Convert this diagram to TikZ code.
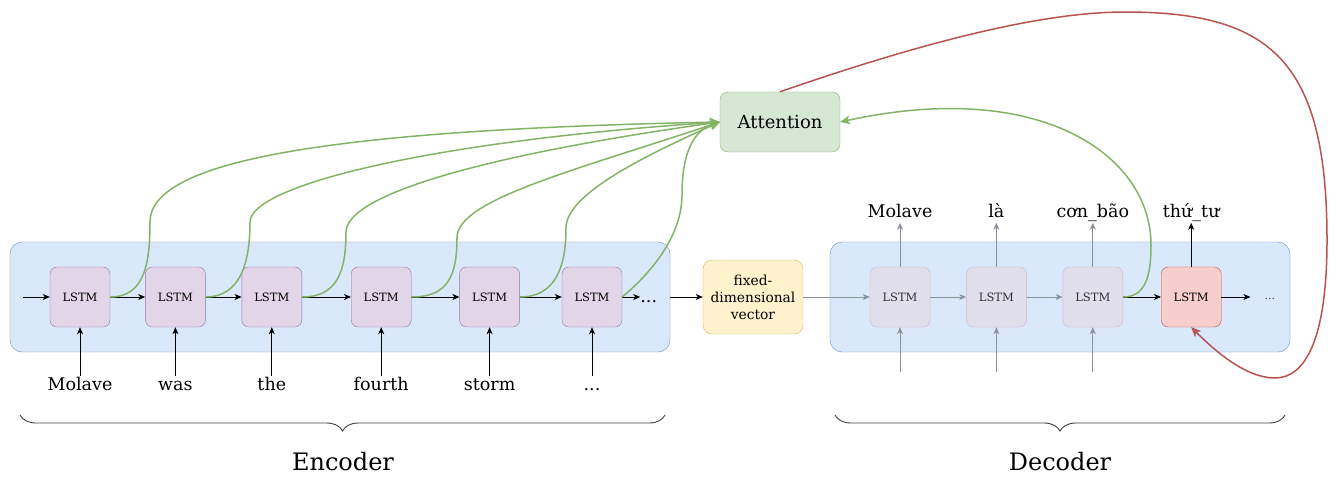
\documentclass[tikz,border=0pt]{standalone}
\usepackage{fontspec}
\setmainfont{DejaVu Serif}
\usepackage{xcolor}
\usetikzlibrary{positioning,arrows.meta,decorations.pathreplacing}
\definecolor{blockfill}{HTML}{DAE8FC}
\definecolor{blockdraw}{HTML}{6C8EBF}
\definecolor{cellfill}{HTML}{E1D5E7}
\definecolor{celldraw}{HTML}{9673A6}
\definecolor{fadefill}{HTML}{E1DFEC}
\definecolor{fadedraw}{HTML}{D5B3C3}
\definecolor{curfill}{HTML}{F8CECC}
\definecolor{curdraw}{HTML}{B85450}
\definecolor{vecfill}{HTML}{FFF2CC}
\definecolor{vecdraw}{HTML}{D6B656}
\definecolor{attfill}{HTML}{D5E8D4}
\definecolor{attdraw}{HTML}{82B366}
\definecolor{fadearrow}{HTML}{8C939D}
\tikzset{
  block/.style={draw=blockdraw, fill=blockfill, rounded corners=12pt, minimum height=110pt, inner sep=0pt},
  lstm/.style={draw=celldraw, fill=cellfill, rounded corners=7pt, minimum width=60pt, minimum height=60pt, inner sep=0pt, font={\fontsize{11.5pt}{13}\selectfont}},
  fade/.style={lstm, draw=fadedraw, fill=fadefill, text=black!80},
  cur/.style={lstm, draw=curdraw, fill=curfill},
  vec/.style={draw=vecdraw, fill=vecfill, rounded corners=9pt, minimum width=100pt, minimum height=74pt, inner sep=0pt, align=center, font={\fontsize{13.8pt}{17}\selectfont}},
  att/.style={draw=attdraw, fill=attfill, rounded corners=8pt, minimum width=120pt, minimum height=60pt, inner sep=0pt, font={\fontsize{18pt}{21}\selectfont}},
  word/.style={inner sep=1pt, text height=13pt, text depth=4pt, font={\fontsize{17.5pt}{21}\selectfont}},
  flow/.style={-{Stealth[length=7pt,width=6pt,inset=2pt]}, line width=0.9pt},
  faded/.style={flow, draw=fadearrow},
  attn/.style={draw=attdraw, line width=1.5pt, -{Stealth[length=10pt,width=9pt,inset=3pt]}},
  back/.style={draw=curdraw, line width=1.5pt, -{Stealth[length=10pt,width=9pt,inset=3pt]}},
  brace/.style={decorate, decoration={brace, amplitude=16pt, mirror}, draw=black!75, line width=0.9pt},
  part/.style={font={\fontsize{24pt}{28}\selectfont}}
}
\begin{document}
\begin{tikzpicture}[x=1pt, y=-1pt]
  \useasboundingbox (0,0) rectangle (1338,488);
  % Define nodes
  \node[block, minimum width=660pt] (enc) at (340,297) {};
  \node[block, minimum width=460pt] (dec) at (1060,297) {};
  \node[lstm] (e1) at (80,297) {LSTM};
  \node[lstm, right=35pt of e1] (e2) {LSTM};
  \node[lstm, right=36pt of e2] (e3) {LSTM};
  \node[lstm, right=49pt of e3] (e4) {LSTM};
  \node[lstm, right=48pt of e4] (e5) {LSTM};
  \node[lstm, right=42pt of e5] (e6) {LSTM};
  \node[word, inner sep=0pt, anchor=base west] (edots) at ([xshift=18pt,yshift=-5pt]e6.east) {...};
  \coordinate[left=27pt of e1] (ein);
  \node[vec] (vec) at (753,297) {fixed-\\dimensional\\vector};
  \node[att] (att) at (780,122) {Attention};
  \node[fade] (d1) at (900,297) {LSTM};
  \node[fade, right=36pt of d1] (d2) {LSTM};
  \node[fade, right=36pt of d2] (d3) {LSTM};
  \node[cur, right=38pt of d3] (d4) {LSTM};
  \node[font={\fontsize{11pt}{13}\selectfont}, text=black!75, inner sep=0pt, right=43pt of d4, yshift=-2pt] (ddots) {...};

  % Source and target words
  \node[word, below=49pt of e1] (w1) {Molave};
  \node[word, below=49pt of e2] (w2) {was};
  \node[word, below=49pt of e3] (w3) {the};
  \node[word, below=49pt of e4] (w4) {fourth};
  \node[word, below=49pt of e5] (w5) {storm};
  \node[word, below=49pt of e6] (w6) {...};
  \node[word, above=44pt of d1] (o1) {Molave};
  \node[word, above=44pt of d2] (o2) {là};
  \node[word, above=44pt of d3] (o3) {cơn\_bão};
  \node[word, above=44pt of d4] (o4) {thứ\_tư};
  \coordinate[below=45pt of d1] (i1);
  \coordinate[below=45pt of d2] (i2);
  \coordinate[below=45pt of d3] (i3);

  % Connect the nodes
  \draw[flow] (ein) -- (e1);
  \foreach \a/\b in {e1/e2,e2/e3,e3/e4,e4/e5,e5/e6}
    \draw[flow] (\a) -- (\b);
  \draw[flow] (e6.east) -- (e6.east -| edots.west);
  \foreach \i in {1,...,6}
    \draw[flow] (w\i) -- (e\i);
  \draw[flow] (enc) -- (vec);
  \draw[faded] (vec) -- (d1);
  \draw[faded] (d1) -- (d2);
  \draw[faded] (d2) -- (d3);
  \draw[flow] (d3) -- (d4);
  \draw[flow] (d4.east) -- ([xshift=-14pt]ddots.west |- d4.east);
  \foreach \i in {1,2,3} {
    \draw[faded] (i\i) -- (d\i);
    \draw[faded] (d\i) -- (o\i);
  }
  \draw[flow] (d4) -- (o4);

  % Attention links
  \draw[attn] (e1.east) .. controls +(35,0) and +(0,40) .. (150,222) .. controls +(0,-60) and +(-400,8) .. (att.west);
  \draw[attn] (e2.east) .. controls +(35,0) and +(0,40) .. (250,222) .. controls +(0,-35) and +(-300,20) .. (att.west);
  \draw[attn] (e3.east) .. controls +(35,0) and +(0,40) .. (346,232) .. controls +(0,-35) and +(-250,35) .. (att.west);
  \draw[attn] (e4.east) .. controls +(35,0) and +(0,40) .. (457,238) .. controls +(0,-38) and +(-150,50) .. (att.west);
  \draw[attn] (e5.east) .. controls +(35,0) and +(0,40) .. (566,228) .. controls +(0,-33) and +(-80,36) .. (att.west);
  \draw[attn] (e6.east) .. controls +(30,-25) and +(0,40) .. (682,195) .. controls +(0,-45) and +(-25,8) .. (att.west);
  \draw[attn] (d3.east) .. controls +(23,0) and +(0,30) .. (1151,245) .. controls +(0,-90) and +(200,-44) .. (att.east);
  \draw[back] (att.north) .. controls +(150,-52) and +(-80,0) .. (1125,12) .. controls +(145,0) and +(0,-180) .. (1327,240) .. controls +(0,100) and +(30,0) .. (1275,378) .. controls +(-30,0) and +(22,22) .. (d4.south);

  % Braces
  \draw[brace] (20,415) -- (665,415);
  \draw[brace] (835,415) -- (1285,415);
  \node[part] (enclbl) at (343,462) {Encoder};
  \node[part] (declbl) at (1060,462) {Decoder};
\end{tikzpicture}
\end{document}
